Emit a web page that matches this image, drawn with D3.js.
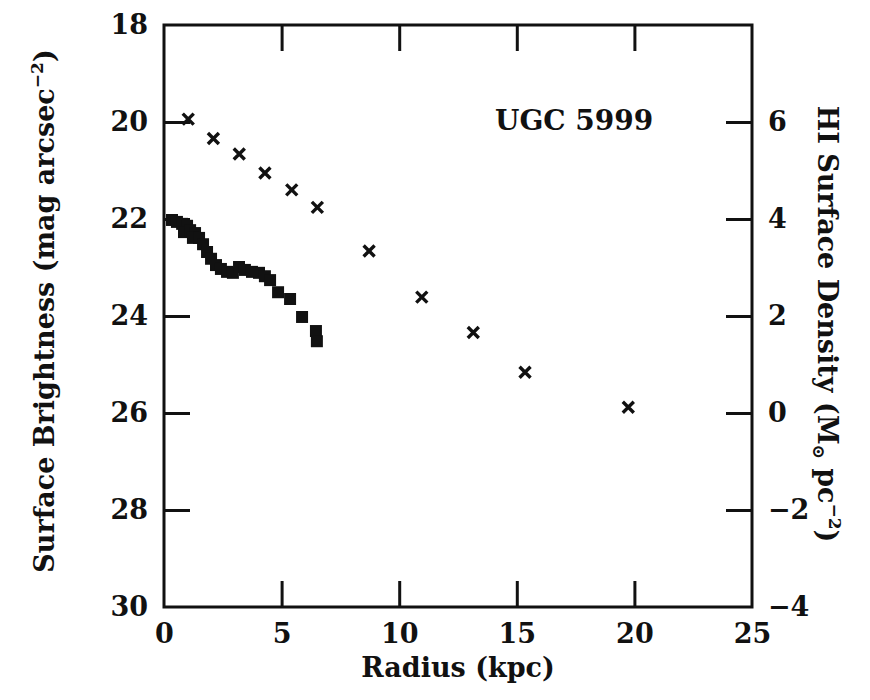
<!DOCTYPE html>
<html>
<head>
<meta charset="utf-8">
<script src="https://cdn.jsdelivr.net/npm/d3@7"></script>
<style>
  body { margin: 0; background: #fff; }
  text { font-family: "DejaVu Serif", serif; font-weight: bold; fill: #111; }
</style>
</head>
<body>
<div id="chart"></div>
<script>
// surface brightness profile (filled squares), radius in kpc, mag arcsec^-2
const sbRadius = [0.34, 0.55, 0.77, 0.98, 0.85, 1.11, 1.32, 1.23, 1.49, 1.66, 1.83, 2.00, 2.21, 2.42,
  2.68, 2.93, 3.19, 3.44, 3.74, 4.04, 4.29, 4.51, 4.85, 5.36, 5.87, 6.46, 6.50];
const sbMag = [22.02, 22.06, 22.10, 22.14, 22.27, 22.23, 22.29, 22.39, 22.39, 22.52, 22.68, 22.82, 22.95, 23.03,
  23.09, 23.11, 22.99, 23.05, 23.09, 23.11, 23.18, 23.26, 23.51, 23.65, 24.02, 24.31, 24.52];

// HI surface density (crosses), Msun pc^-2
const hiRadius = [1.03, 2.10, 3.20, 4.29, 5.43, 6.52, 8.72, 10.96, 13.15, 15.35, 19.74];
const hiDensity = [6.06, 5.66, 5.34, 4.95, 4.60, 4.24, 3.34, 2.39, 1.66, 0.84, 0.12];

const xTicks = [0, 5, 10, 15, 20, 25];
const leftTicks = [18, 20, 22, 24, 26, 28, 30];
const rightTicks = [-4, -2, 0, 2, 4, 6];

const margin = { top: 25, right: 118, bottom: 93, left: 164 };
const width = 870 - margin.left - margin.right;
const height = 700 - margin.top - margin.bottom;
const tickLen = 26;

const svg = d3.select('#chart').append('svg')
  .attr('width', 870)
  .attr('height', 700);

const g = svg.append('g')
  .attr('transform', 'translate(' + margin.left + ',' + margin.top + ')');

const x = d3.scaleLinear().domain([0, 25]).range([0, width]);
const yL = d3.scaleLinear().domain([18, 30]).range([0, height]);
const yR = d3.scaleLinear().domain([-4, 8]).range([height, 0]);

function styleAxis(sel) {
  sel.select('.domain').remove();
  sel.selectAll('.tick line').attr('stroke', '#111').attr('stroke-width', 3);
  sel.selectAll('.tick text').attr('font-size', 27).attr('fill', '#111');
}

// bottom axis with labels
g.append('g')
  .attr('transform', 'translate(0,' + height + ')')
  .call(d3.axisBottom(x).tickValues(xTicks).tickSize(-tickLen).tickPadding(17).tickFormat(d3.format('d')))
  .call(styleAxis)
  .call(s => s.selectAll('.tick').filter(d => d === 0 || d === 25).select('line').remove());

// top axis, ticks only
g.append('g')
  .call(d3.axisTop(x).tickValues(xTicks.slice(1, -1)).tickSize(-tickLen).tickFormat(''))
  .call(styleAxis);

g.append('g')
  .call(d3.axisLeft(yL).tickValues(leftTicks).tickSize(-tickLen).tickPadding(16).tickFormat(d3.format('d')))
  .call(styleAxis)
  .call(s => s.selectAll('.tick').filter(d => d === 18 || d === 30).select('line').remove());

g.append('g')
  .attr('transform', 'translate(' + width + ',0)')
  .call(d3.axisRight(yR).tickValues(rightTicks).tickSize(-tickLen).tickPadding(16)
    .tickFormat(d => d < 0 ? '\u2212' + Math.abs(d) : d))
  .call(styleAxis)
  .call(s => s.selectAll('.tick').filter(d => d === -4).select('line').remove());

// frame
g.append('rect')
  .attr('width', width)
  .attr('height', height)
  .attr('fill', 'none')
  .attr('stroke', '#111')
  .attr('stroke-width', 3);

// brightness squares
const sb = sbRadius.map((r, i) => ({ r: r, v: sbMag[i] }));
g.selectAll('.sb')
  .data(sb)
  .enter().append('path')
  .attr('class', 'sb')
  .attr('d', d3.symbol().type(d3.symbolSquare).size(144))
  .attr('transform', d => 'translate(' + x(d.r) + ',' + yL(d.v) + ')')
  .attr('fill', '#111');

// HI crosses
const hi = hiRadius.map((r, i) => ({ r: r, v: hiDensity[i] }));
g.selectAll('.hi')
  .data(hi)
  .enter().append('path')
  .attr('class', 'hi')
  .attr('d', 'M-5.5,-5.5L5.5,5.5M-5.5,5.5L5.5,-5.5')
  .attr('transform', d => 'translate(' + x(d.r) + ',' + yR(d.v) + ')')
  .attr('stroke', '#111')
  .attr('stroke-width', 3.4);

g.append('text')
  .attr('x', 331)
  .attr('y', 105)
  .attr('font-size', 28)
  .text('UGC 5999');

svg.append('text')
  .attr('x', margin.left + width / 2)
  .attr('y', 677)
  .attr('text-anchor', 'middle')
  .attr('font-size', 27)
  .text('Radius (kpc)');

const leftTitle = svg.append('text')
  .attr('transform', 'translate(54,' + (margin.top + height / 2 - 5) + ') rotate(-90)')
  .attr('text-anchor', 'middle')
  .attr('font-size', 27);
leftTitle.append('tspan').text('Surface Brightness (mag arcsec');
leftTitle.append('tspan').attr('dy', -11).attr('font-size', 17).text('\u22122');
leftTitle.append('tspan').attr('dy', 11).text(')');

const rightTitle = svg.append('text')
  .attr('transform', 'translate(818,' + (margin.top + height / 2 + 8) + ') rotate(90)')
  .attr('text-anchor', 'middle')
  .attr('font-size', 27);
rightTitle.append('tspan').text('HI Surface Density (M');
rightTitle.append('tspan').attr('dy', 5).attr('font-size', 17).text('\u2299');
rightTitle.append('tspan').attr('dy', -5).text(' pc');
rightTitle.append('tspan').attr('dy', -11).attr('font-size', 17).text('\u22122');
rightTitle.append('tspan').attr('dy', 11).text(')');
</script>
</body>
</html>
